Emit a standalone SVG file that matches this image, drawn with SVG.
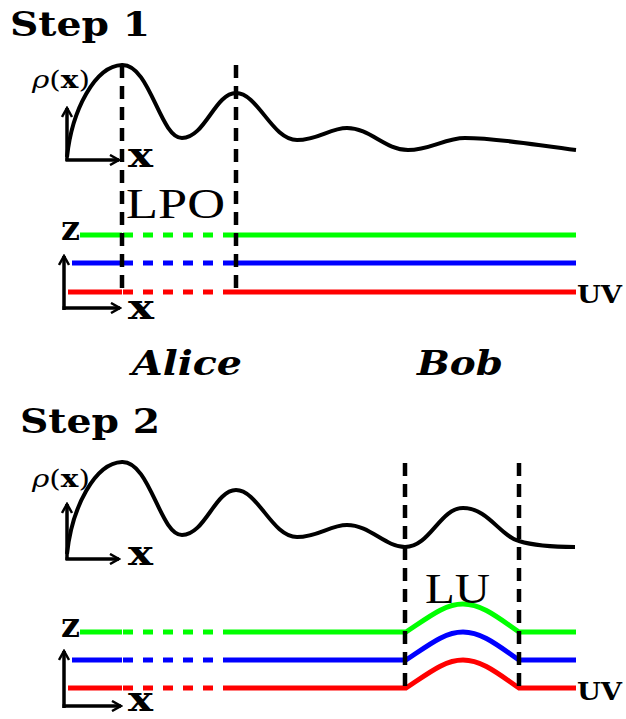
<svg xmlns="http://www.w3.org/2000/svg" width="626" height="719" viewBox="0 0 626 719">
<style>
.curve{fill:none;stroke:#000;stroke-width:4;stroke-linecap:butt;stroke-linejoin:round}
.vdash{fill:none;stroke:#000;stroke-width:4.5;stroke-dasharray:13 8}
.axis{fill:none;stroke:#000;stroke-width:3.5}
.g{fill:none;stroke:#00ff00;stroke-width:5}
.b{fill:none;stroke:#0000ff;stroke-width:5}
.r{fill:none;stroke:#ff0000;stroke-width:5}
.dsh{stroke-dasharray:10 10}
.title{font-family:"DejaVu Serif","Liberation Serif",serif;font-weight:bold;font-size:34px;fill:#000}
.big{font-family:"Liberation Serif","DejaVu Serif",serif;font-size:42px;fill:#000}
.ax{font-family:"DejaVu Serif","Liberation Serif",serif;font-weight:bold;font-size:34px;fill:#000}
.rho{font-family:"DejaVu Serif","Liberation Serif",serif;font-size:24px;fill:#000}
.uv{font-family:"DejaVu Serif","Liberation Serif",serif;font-weight:bold;font-size:24px;fill:#000}
.name{font-family:"DejaVu Serif","Liberation Serif",serif;font-weight:bold;font-style:italic;font-size:34px;fill:#000}
</style>
<defs>
<marker id="ah" markerWidth="12" markerHeight="12" refX="10" refY="6" orient="auto" markerUnits="userSpaceOnUse">
<path d="M1,1 L10,6 L1,11" fill="none" stroke="#000" stroke-width="2.5"/>
</marker>
</defs>

<g id="step1">
<text class="title" x="10" y="36" textLength="140" lengthAdjust="spacingAndGlyphs">Step 1</text>
<g id="s1-density">
<path class="curve" d="M67,157 C72,110 95,66 122,65 C150,64 160,138 182,138 C205,138 215,93 236,93 C258,93 272,140 297,140 C318,140 330,128 347,128 C370,128 385,150 408,150 C430,150 445,138 465,138 C500,138 540,146 576,150"/>
<path class="axis" d="M67,161 L67,108" marker-end="url(#ah)"/>
<path class="axis" d="M65.5,160 L119,160" marker-end="url(#ah)"/>
<text class="rho" x="32" y="88" textLength="58" lengthAdjust="spacingAndGlyphs"><tspan font-style="italic">ρ</tspan>(<tspan font-weight="bold">x</tspan>)</text>
<text class="ax" x="128" y="167" textLength="25" lengthAdjust="spacingAndGlyphs">x</text>
</g>
<g id="s1-lines">
<path class="g" d="M80,235 L122,235"/><path class="g dsh" d="M123,235 L224,235"/><path class="g" d="M224,235 L576,235"/>
<path class="b" d="M72,263 L122,263"/><path class="b dsh" d="M123,263 L224,263"/><path class="b" d="M224,263 L576,263"/>
<path class="r" d="M68,292 L122,292"/><path class="r dsh" d="M123,292 L224,292"/><path class="r" d="M224,292 L576,292"/>
<path class="axis" d="M64,310 L64,256" marker-end="url(#ah)"/>
<path class="axis" d="M62.5,308 L120,308" marker-end="url(#ah)"/>
<text class="ax" x="61" y="240" textLength="19" lengthAdjust="spacingAndGlyphs">z</text>
<text class="ax" x="128" y="319" textLength="26" lengthAdjust="spacingAndGlyphs">x</text>
<text class="uv" x="577" y="303" textLength="45" lengthAdjust="spacingAndGlyphs">UV</text>
</g>
<g id="s1-lpo">
<path class="vdash" d="M122,65 L122,294"/>
<path class="vdash" d="M236,65 L236,294"/>
<text class="big" x="126" y="218" textLength="99" lengthAdjust="spacingAndGlyphs">LPO</text>
</g>
</g>

<g id="names">
<text class="name" x="132" y="375" textLength="110" lengthAdjust="spacingAndGlyphs">Alice</text>
<text class="name" x="417" y="375" textLength="86" lengthAdjust="spacingAndGlyphs">Bob</text>
</g>

<g id="step2">
<text class="title" x="20" y="433" textLength="140" lengthAdjust="spacingAndGlyphs">Step 2</text>
<g id="s2-density">
<path class="curve" d="M67,554 C72,507 95,463 122,462 C150,461 160,535 182,535 C205,535 215,490 236,490 C258,490 272,537 297,537 C318,537 330,525 347,525 C370,525 385,547 405,547 C430,547 440,508 463,508 C488,508 500,536 519,541 C535,546 555,547 575,547"/>
<path class="axis" d="M67,560 L67,504" marker-end="url(#ah)"/>
<path class="axis" d="M65.5,559 L119,559" marker-end="url(#ah)"/>
<text class="rho" x="32" y="487" textLength="58" lengthAdjust="spacingAndGlyphs"><tspan font-style="italic">ρ</tspan>(<tspan font-weight="bold">x</tspan>)</text>
<text class="ax" x="128" y="565" textLength="25" lengthAdjust="spacingAndGlyphs">x</text>
</g>
<g id="s2-lines">
<path class="g" d="M80,632 L122,632"/><path class="g dsh" d="M123,632 L224,632"/><path class="g" d="M224,632 L406,632 C430,616 445,604 463,604 C481,604 496,616 519,632 L576,632"/>
<path class="b" d="M72,660 L122,660"/><path class="b dsh" d="M123,660 L224,660"/><path class="b" d="M224,660 L406,660 C430,644 445,632 463,632 C481,632 496,644 519,660 L576,660"/>
<path class="r" d="M68,688 L122,688"/><path class="r dsh" d="M123,688 L224,688"/><path class="r" d="M224,688 L406,688 C430,672 445,660 463,660 C481,660 496,672 519,688 L576,688"/>
<path class="axis" d="M64,708 L64,651" marker-end="url(#ah)"/>
<path class="axis" d="M62.5,706 L121,706" marker-end="url(#ah)"/>
<text class="ax" x="61" y="637" textLength="19" lengthAdjust="spacingAndGlyphs">z</text>
<text class="ax" x="128" y="711" font-size="30" textLength="25" lengthAdjust="spacingAndGlyphs">x</text>
<text class="uv" x="577" y="700" textLength="45" lengthAdjust="spacingAndGlyphs">UV</text>
</g>
<g id="s2-lu">
<path class="vdash" d="M405,463 L405,691"/>
<path class="vdash" d="M519,463 L519,691"/>
<text class="big" x="425" y="603" textLength="65" lengthAdjust="spacingAndGlyphs">LU</text>
</g>
</g>
</svg>
